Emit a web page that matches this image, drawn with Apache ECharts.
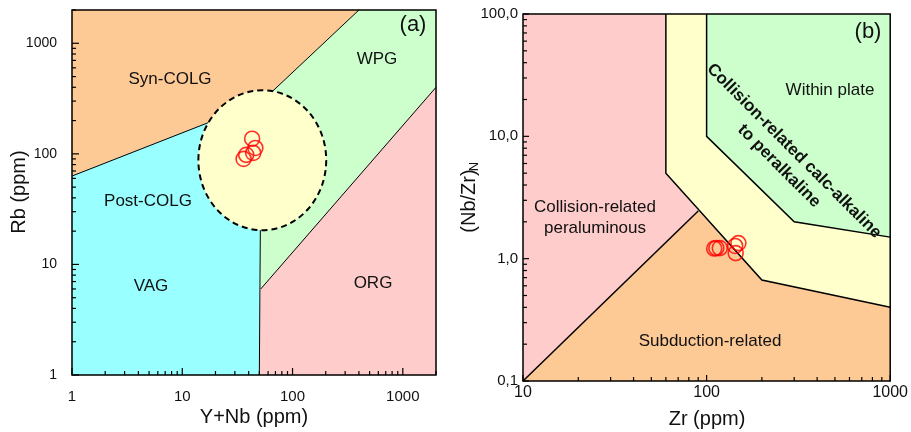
<!DOCTYPE html>
<html><head><meta charset="utf-8">
<script src="https://cdn.jsdelivr.net/npm/echarts@6/dist/echarts.min.js"></script>
<style>html,body{margin:0;padding:0;background:#fff}#c{width:911px;height:432px}</style>
</head><body><div id="c"></div><script>
// ---------- Panel (a): Rb vs Y+Nb ----------
const aXRange = [1, 2000];
const aYRange = [1, 2000];
const aSynCOLG = [[1,63],[52,295],[400,2000],[1,2000]];
const aVAG = [[1,1],[1,63],[52,295],[50,1]];
const aWPG = [[52,295],[400,2000],[2000,2000],[2000,400],[51.5,6]];
const aORG = [[50,1],[51.5,6],[2000,400],[2000,1]];
const aLines = [
  [[1,63],[52,295]],
  [[52,295],[400,2000]],
  [[50,1],[52,295]],
  [[51.5,6],[2000,400]]
];
const aPostX = [14, 202];   // ellipse extent in Y+Nb
const aPostY = [20.4, 376]; // ellipse extent in Rb
const aYNb = [43, 46, 44, 38, 36];
const aRb  = [137, 113, 102, 98, 90];

// ---------- Panel (b): (Nb/Zr)N vs Zr ----------
const bXRange = [10, 1000];
const bYRange = [0.1, 100];
const bPink   = [[10,0.1],[90,2.45],[60,5],[60,100],[10,100]];
const bOrange = [[10,0.1],[90,2.45],[200,0.67],[1000,0.4],[1000,0.1]];
const bYellow = [[60,100],[60,5],[200,0.67],[1000,0.4],[1000,1.5],[300,2],[100,10],[100,100]];
const bGreen  = [[100,100],[100,10],[300,2],[1000,1.5],[1000,100]];
const bLines = [
  [[10,0.1],[90,2.45]],
  [[60,100],[60,5],[200,0.67],[1000,0.4]],
  [[100,100],[100,10],[300,2],[1000,1.5]]
];
const bZr   = [110, 113, 118, 143, 144, 149];
const bNbZr = [1.21, 1.22, 1.22, 1.27, 1.11, 1.34];

const FONT = "'Liberation Sans', Arial, sans-serif";
const C_OR = '#FDC995', C_CY = '#99FFFF', C_GR = '#CCFFCC', C_PK = '#FFCCCC', C_YE = '#FFFFCC';

function polySeries(g, pts, fill) {
  return { type:'custom', xAxisIndex:g, yAxisIndex:g, z:1, silent:true, data:[pts[0]],
    renderItem:(p, api)=>({type:'polygon', shape:{points:pts.map(q=>api.coord(q))}, style:{fill:fill, stroke:fill, lineWidth:0.5}}) };
}
function lineSeries(g, lines, w) {
  return { type:'custom', xAxisIndex:g, yAxisIndex:g, z:2, silent:true, data:[lines[0][0]],
    renderItem:(p, api)=>({type:'group', children: lines.map(l=>({type:'polyline', shape:{points:l.map(q=>api.coord(q))}, style:{stroke:'#000', lineWidth:w, fill:'none'}}))}) };
}
// log-axis tick positions (1..9 x each decade) within a range
function logTicks(r) {
  const out = [];
  for (let e = Math.round(Math.log10(r[0])); Math.pow(10, e) <= r[1] * 1.0001; e++) {
    for (let m = 1; m <= 9; m++) {
      const v = m * Math.pow(10, e);
      if (v >= r[0] * 0.9999 && v <= r[1] * 1.0001) out.push([v, m === 1]);
    }
  }
  return out;
}
function frameSeries(g, pt) {
  return { type:'custom', xAxisIndex:g, yAxisIndex:g, z:9, silent:true, data:[pt],
    renderItem:(p, api)=>({type:'rect', shape:{x:p.coordSys.x, y:p.coordSys.y, width:p.coordSys.width, height:p.coordSys.height}, style:{fill:'none', stroke:'#000', lineWidth:1.5}}) };
}
function isPow10(v){ const l = Math.log10(v); return Math.abs(l - Math.round(l)) < 1e-6; }

function txt(x, y, s, size, opts) {
  opts = opts || {};
  return { type:'text', x:x, y:y, rotation:opts.rot||0, z:20, silent:true,
    style:{ text:s, x:0, y:0, textAlign:'center', textVerticalAlign:'middle',
      font:(opts.bold?'bold ':'') + size + 'px ' + FONT, fill:'#111' } };
}
function arrow(x1, y1, x2, y2) {
  const a = Math.atan2(y2-y1, x2-x1), L = 7, s = 0.4;
  return { type:'group', z:20, silent:true, children:[
    {type:'line', shape:{x1:x1,y1:y1,x2:x2,y2:y2}, style:{stroke:'#000', lineWidth:1}},
    {type:'polyline', shape:{points:[[x2-L*Math.cos(a-s), y2-L*Math.sin(a-s)],[x2,y2],[x2-L*Math.cos(a+s), y2-L*Math.sin(a+s)]]}, style:{stroke:'#000', lineWidth:1, fill:'none'}}
  ]};
}

const chart = echarts.init(document.getElementById('c'));
const axBase = { type:'log', logBase:10, axisLine:{show:false}, axisTick:{show:false}, splitLine:{show:false}, minorTick:{show:false} };
const texts = [
  txt(170, 79, 'Syn-COLG', 17), txt(377, 59, 'WPG', 17), txt(148, 201, 'Post-COLG', 17),
  txt(151, 286, 'VAG', 17), txt(373, 283, 'ORG', 17), txt(413, 25, '(a)', 22),
  arrow(211.7, 163.3, 164.3, 187.7),
  txt(254, 417, 'Y+Nb (ppm)', 20), txt(19, 192, 'Rb (ppm)', 20, {rot:Math.PI/2}),
  txt(868, 32, '(b)', 22), txt(830, 90, 'Within plate', 17),
  txt(595, 207, 'Collision-related', 17), txt(595, 228, 'peraluminous', 17),
  txt(710, 341, 'Subduction-related', 17),
  txt(794, 151, 'Collision-related calc-alkaline', 17, {rot:-Math.PI/4, bold:true}),
  txt(779, 166, 'to peralkaline', 17, {rot:-Math.PI/4, bold:true}),
  arrow(727.7, 182.3, 756.7, 156.7),
  txt(707, 419, 'Zr (ppm)', 20),
  txt(469, 201, '(Nb/Zr)', 20, {rot:Math.PI/2}), txt(474.5, 166.5, 'N', 13, {rot:Math.PI/2})
];
chart.setOption({
  animation:false,
  grid:[
    {left:72, top:10, width:364, height:365},
    {left:523, top:14, width:369, height:367}
  ],
  xAxis:[
    Object.assign({}, axBase, {gridIndex:0, min:aXRange[0], max:aXRange[1],
      axisLabel:{fontSize:15, fontFamily:FONT, color:'#111', margin:14, showMaxLabel:false, formatter:v=>isPow10(v)?String(Math.round(v)):''}}),
    Object.assign({}, axBase, {gridIndex:1, min:bXRange[0], max:bXRange[1],
      axisLabel:{fontSize:16, fontFamily:FONT, color:'#111', margin:4, formatter:v=>isPow10(v)?String(Math.round(v)):''}})
  ],
  yAxis:[
    Object.assign({}, axBase, {gridIndex:0, min:aYRange[0], max:aYRange[1],
      axisLabel:{fontSize:14, fontFamily:FONT, color:'#111', margin:15, showMaxLabel:false, formatter:v=>isPow10(v)?String(Math.round(v)):''}}),
    Object.assign({}, axBase, {gridIndex:1, min:bYRange[0], max:bYRange[1],
      axisLabel:{fontSize:15, fontFamily:FONT, color:'#111', margin:5, formatter:v=>isPow10(v)?v.toFixed(1).replace('.', ','):''}})
  ],
  series:[
    polySeries(0, aSynCOLG, C_OR), polySeries(0, aVAG, C_CY), polySeries(0, aWPG, C_GR), polySeries(0, aORG, C_PK),
    lineSeries(0, aLines, 1),
    { type:'custom', xAxisIndex:0, yAxisIndex:0, z:3, silent:true, data:[[aPostX[0], aPostY[0]]],
      renderItem:(p, api)=>{
        const tl = api.coord([aPostX[0], aPostY[1]]), br = api.coord([aPostX[1], aPostY[0]]);
        return {type:'ellipse', shape:{cx:(tl[0]+br[0])/2, cy:(tl[1]+br[1])/2, rx:(br[0]-tl[0])/2, ry:(br[1]-tl[1])/2},
          style:{fill:C_YE, stroke:'#000', lineWidth:2, lineDash:[6,4]}};
      } },
    { type:'scatter', xAxisIndex:0, yAxisIndex:0, z:4, silent:true, symbol:'circle', symbolSize:15,
      itemStyle:{color:'rgba(0,0,0,0)', borderColor:'#FF0000', borderWidth:1.6},
      data: aYNb.map((x,i)=>[x, aRb[i]]) },
    frameSeries(0, [aXRange[0], aYRange[0]]),

    polySeries(1, bPink, C_PK), polySeries(1, bOrange, C_OR), polySeries(1, bYellow, C_YE), polySeries(1, bGreen, C_GR),
    lineSeries(1, bLines, 1.5),
    { type:'scatter', xAxisIndex:1, yAxisIndex:1, z:4, silent:true, symbol:'circle', symbolSize:15,
      itemStyle:{color:'rgba(0,0,0,0)', borderColor:'#FF0000', borderWidth:1.6},
      data: bZr.map((x,i)=>[x, bNbZr[i]]) },
    frameSeries(1, [bXRange[0], bYRange[0]])
  ],
  graphic: texts
});

// inward log ticks, positioned through the chart's own axis scales
function tickGraphics(g, xr, yr, majLen, minLen) {
  const out = [];
  logTicks(xr).forEach(t => {
    const c = chart.convertToPixel({gridIndex:g}, [t[0], yr[0]]); const L = t[1] ? majLen : minLen;
    out.push({type:'line', z:30, silent:true, shape:{x1:c[0], y1:c[1], x2:c[0], y2:c[1]-L}, style:{stroke:'#000', lineWidth:1.2}});
  });
  logTicks(yr).forEach(t => {
    const c = chart.convertToPixel({gridIndex:g}, [xr[0], t[0]]); const L = t[1] ? majLen : minLen;
    out.push({type:'line', z:30, silent:true, shape:{x1:c[0], y1:c[1], x2:c[0]+L, y2:c[1]}, style:{stroke:'#000', lineWidth:1.2}});
  });
  return out;
}
chart.setOption({ graphic: texts.concat(tickGraphics(0, aXRange, aYRange, 7, 4), tickGraphics(1, bXRange, bYRange, 6, 4)) });
</script></body></html>
